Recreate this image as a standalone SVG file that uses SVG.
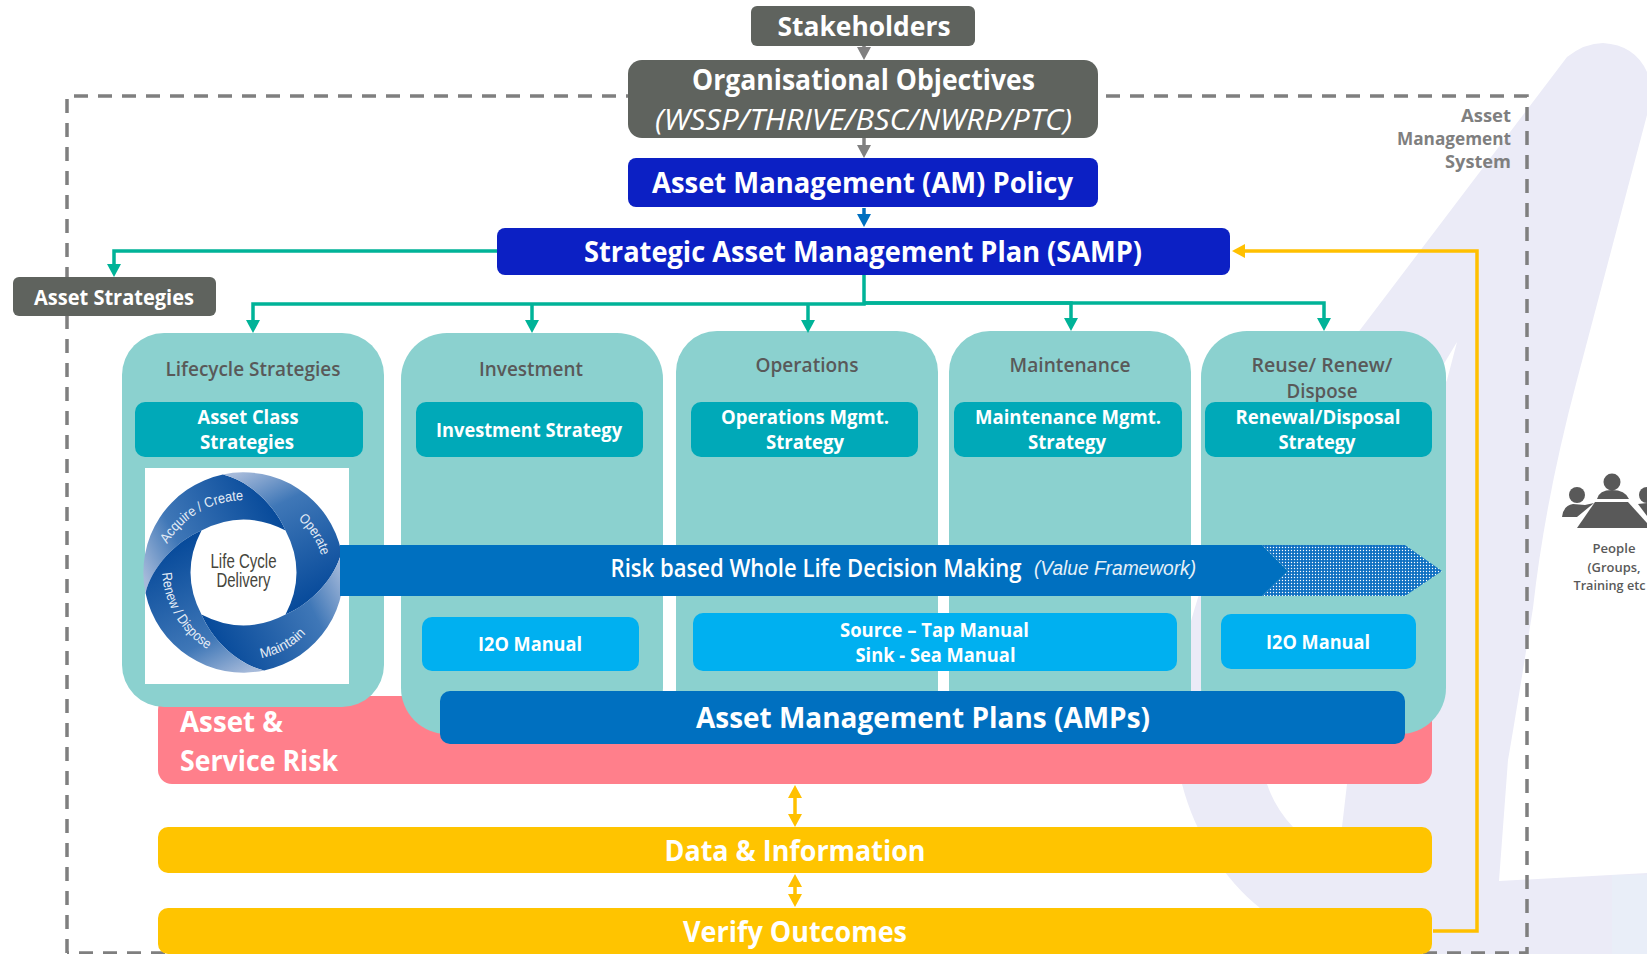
<svg xmlns="http://www.w3.org/2000/svg" xmlns:xlink="http://www.w3.org/1999/xlink" width="1647" height="954" viewBox="0 0 1647 954">
<style>
text{font-family:"Open Sans","Liberation Sans",sans-serif;font-weight:700;fill:#fff;text-anchor:middle}
.col{fill:#8bd1cf}
.strat{fill:#00a9b8}
.man{fill:#00b0f0}
.grey{fill:#5f635e}
.navy{fill:#0c20c4}
.head{fill:#595959;font-size:19px;font-weight:600}
.s19{font-size:19px}
.ln{fill:none;stroke-width:3.5}
.teal{stroke:#00b398;marker-end:url(#ah-teal)}
.ring{fill:#e4ecf6;font-family:"Liberation Sans",sans-serif;font-weight:400;font-size:14px;text-anchor:start}
.ppl{fill:#595959;font-size:12.5px;font-weight:600}
.ams{fill:#7f7f7f;font-size:18px;font-weight:700;text-anchor:end}
</style>
<defs>
<marker id="ah-teal" markerUnits="userSpaceOnUse" markerWidth="14" markerHeight="14" refX="5" refY="7" orient="auto"><path d="M0,0L13,7L0,14Z" fill="#00b398"/></marker>
<marker id="ah-grey" markerUnits="userSpaceOnUse" markerWidth="14" markerHeight="14" refX="5" refY="7" orient="auto"><path d="M0,0L13,7L0,14Z" fill="#808080"/></marker>
<marker id="ah-blue" markerUnits="userSpaceOnUse" markerWidth="14" markerHeight="14" refX="5" refY="7" orient="auto"><path d="M0,0L13,7L0,14Z" fill="#0070c0"/></marker>
<marker id="ah-yel" markerUnits="userSpaceOnUse" markerWidth="14" markerHeight="14" refX="5" refY="7" orient="auto-start-reverse"><path d="M0,0L13,7L0,14Z" fill="#ffc000"/></marker>
<pattern id="dots" patternUnits="userSpaceOnUse" width="3" height="3"><rect width="3" height="3" fill="#0f70c2"/><circle cx="1.5" cy="1.5" r=".7" fill="#fff"/></pattern>
<linearGradient id="sw" gradientUnits="userSpaceOnUse" x1="150" y1="590" x2="280" y2="525"><stop offset="0" stop-color="#a6bada"/><stop offset=".32" stop-color="#3f77b7"/><stop offset="1" stop-color="#084b9b"/></linearGradient>
<path id="band" fill="url(#sw)" d="M145.500,593A100,100 0 0 1 222.900,474.500C248.500,480.500 274.500,504.500 285.500,530.500Q243.500,508.500 201.500,530.500C175.500,541.500 151.500,567.500 145.500,593Z"/>
<path id="t1" d="M167,544Q195,500 248,500"/>
<path id="t2" d="M298,519Q316,535 322,558"/>
<path id="t3" d="M261,658Q291,652 309,630"/>
<path id="t4" d="M162,573Q167,628 217,655"/>
</defs>
<rect width="1647" height="954" fill="#fff"/>
<g id="background">
<path fill="#ebebf7" d="M1567,57Q1585,43 1603,43Q1635,45 1647,72L1647,115L1577,380Q1545,500 1533,608Q1515,720 1508,760L1499,881L1647,873L1647,954L1345,954C1320,945 1290,930 1260,908C1225,880 1195,835 1182,784C1170,740 1170,640 1230,520L1360,330Z"/>
<rect x="1612" y="875" width="35" height="79" fill="#e9eef8"/>
<path fill="#fff" d="M1457,342L1445,362C1400,440 1300,620 1267,784Q1275,808 1293,827L1340,862L1342,827L1347,784C1360,640 1400,470 1447,380Z"/>
</g>
<g id="am-system">
<path d="M67,953V96H1527V953H67" fill="none" stroke="#7f7f7f" stroke-width="3.5" stroke-dasharray="14 10"/>
<text class="ams" x="1511" y="122" textLength="50" lengthAdjust="spacingAndGlyphs">Asset</text>
<text class="ams" x="1511" y="145" textLength="114" lengthAdjust="spacingAndGlyphs">Management</text>
<text class="ams" x="1511" y="168" textLength="66" lengthAdjust="spacingAndGlyphs">System</text>
</g>
<g id="asset-service-risk">
<rect x="158" y="696" width="1274" height="88" rx="14" fill="#ff7f8b"/>
<text x="180" y="732" font-size="29" style="text-anchor:start" textLength="103" lengthAdjust="spacingAndGlyphs">Asset &amp;</text>
<text x="180" y="771" font-size="29" style="text-anchor:start" textLength="158" lengthAdjust="spacingAndGlyphs">Service Risk</text>
</g>
<g id="data-information"><rect x="158" y="827" width="1274" height="46" rx="10" fill="#ffc400"/>
<text x="795" y="861" font-size="28" textLength="261" lengthAdjust="spacingAndGlyphs">Data &amp; Information</text></g>
<g id="verify-outcomes"><rect x="158" y="908" width="1274" height="46" rx="10" fill="#ffc400"/>
<text x="795" y="942" font-size="28" textLength="224" lengthAdjust="spacingAndGlyphs">Verify Outcomes</text></g>
<g id="investment">
<rect class="col" x="401" y="333" width="262" height="401" rx="46"/>
<text class="head" x="531" y="376" textLength="104" lengthAdjust="spacingAndGlyphs">Investment</text>
<rect class="strat" x="416" y="402" width="227" height="55" rx="10"/>
<text class="s19" x="529" y="437" textLength="186" lengthAdjust="spacingAndGlyphs">Investment Strategy</text>
<rect class="man" x="422" y="617" width="217" height="54" rx="10"/>
<text class="s19" x="530" y="651" textLength="104" lengthAdjust="spacingAndGlyphs">I2O Manual</text>
</g>
<g id="operations">
<path class="col" d="M676,372A41,41 0 0 1 717,331H897A41,41 0 0 1 938,372V700H676Z"/>
<text class="head" x="807" y="372" textLength="103" lengthAdjust="spacingAndGlyphs">Operations</text>
<rect class="strat" x="691" y="402" width="227" height="55" rx="10"/>
<text class="s19" x="805" y="424" textLength="168" lengthAdjust="spacingAndGlyphs">Operations Mgmt.</text>
<text class="s19" x="805" y="449" textLength="78" lengthAdjust="spacingAndGlyphs">Strategy</text>
</g>
<g id="maintenance">
<path class="col" d="M949,372A41,41 0 0 1 990,331H1150A41,41 0 0 1 1191,372V700H949Z"/>
<text class="head" x="1070" y="372" textLength="121" lengthAdjust="spacingAndGlyphs">Maintenance</text>
<rect class="strat" x="954" y="402" width="228" height="55" rx="10"/>
<text class="s19" x="1068" y="424" textLength="186" lengthAdjust="spacingAndGlyphs">Maintenance Mgmt.</text>
<text class="s19" x="1067" y="449" textLength="78" lengthAdjust="spacingAndGlyphs">Strategy</text>
</g>
<g id="source-sink-manuals">
<rect class="man" x="693" y="613" width="484" height="58" rx="10"/>
<text class="s19" x="934.500" y="637" textLength="189" lengthAdjust="spacingAndGlyphs">Source – Tap Manual</text>
<text class="s19" x="935.500" y="662" textLength="160" lengthAdjust="spacingAndGlyphs">Sink - Sea Manual</text>
</g>
<g id="reuse-renew-dispose">
<rect class="col" x="1201" y="331" width="245" height="403" rx="46"/>
<text class="head" x="1322" y="372" textLength="141" lengthAdjust="spacingAndGlyphs">Reuse/ Renew/</text>
<text class="head" x="1322" y="398" textLength="71" lengthAdjust="spacingAndGlyphs">Dispose</text>
<rect class="strat" x="1205" y="402" width="227" height="55" rx="10"/>
<text class="s19" x="1318" y="424" textLength="165" lengthAdjust="spacingAndGlyphs">Renewal/Disposal</text>
<text class="s19" x="1317" y="449" textLength="77" lengthAdjust="spacingAndGlyphs">Strategy</text>
<rect class="man" x="1221" y="614" width="195" height="55" rx="10"/>
<text class="s19" x="1318" y="649" textLength="104" lengthAdjust="spacingAndGlyphs">I2O Manual</text>
</g>
<g id="lifecycle-strategies">
<rect class="col" x="122" y="333" width="262" height="374" rx="42"/>
<text class="head" x="253" y="376" textLength="175" lengthAdjust="spacingAndGlyphs">Lifecycle Strategies</text>
<rect class="strat" x="135" y="402" width="228" height="55" rx="10"/>
<text class="s19" x="248" y="424" textLength="101" lengthAdjust="spacingAndGlyphs">Asset Class</text>
<text class="s19" x="247" y="449" textLength="94" lengthAdjust="spacingAndGlyphs">Strategies</text>
</g>
<g id="life-cycle-delivery">
<rect x="145" y="468" width="204" height="216" fill="#fff"/>
<use xlink:href="#band" href="#band"/>
<use xlink:href="#band" href="#band" transform="rotate(90 243.500 572.500)"/>
<use xlink:href="#band" href="#band" transform="rotate(180 243.500 572.500)"/>
<use xlink:href="#band" href="#band" transform="rotate(270 243.500 572.500)"/>
<text class="ring"><textPath xlink:href="#t1" href="#t1" textLength="92" lengthAdjust="spacingAndGlyphs">Acquire / Create</textPath></text>
<text class="ring"><textPath xlink:href="#t2" href="#t2" textLength="44" lengthAdjust="spacingAndGlyphs">Operate</textPath></text>
<text class="ring"><textPath xlink:href="#t3" href="#t3" textLength="52" lengthAdjust="spacingAndGlyphs">Maintain</textPath></text>
<text class="ring"><textPath xlink:href="#t4" href="#t4" textLength="92" lengthAdjust="spacingAndGlyphs">Renew / Dispose</textPath></text>
<text x="243.500" y="568" font-size="20" textLength="66" lengthAdjust="spacingAndGlyphs" style="fill:#45453c;font-family:'Liberation Sans',sans-serif;font-weight:400">Life Cycle</text>
<text x="243.500" y="587" font-size="20" textLength="54" lengthAdjust="spacingAndGlyphs" style="fill:#45453c;font-family:'Liberation Sans',sans-serif;font-weight:400">Delivery</text>
</g>
<g id="risk-arrow">
<path d="M340,545H1262L1288,571L1262,596H340Z" fill="#0070c0"/>
<path d="M1262,545H1405L1442,571L1405,596H1262L1288,571Z" fill="url(#dots)"/>
<text transform="translate(816 577) scale(.85 1)" x="0" y="0" font-size="26" style="font-weight:600">Risk based Whole Life Decision Making</text>
<text x="1115" y="575" font-size="20" textLength="162" lengthAdjust="spacingAndGlyphs" style="font-family:'Liberation Sans',sans-serif;font-weight:400;font-style:italic;fill:#e6f0f8">(Value Framework)</text>
</g>
<g id="amps">
<rect x="440" y="691" width="965" height="53" rx="10" fill="#0070c0"/>
<text x="923" y="728" font-size="29" textLength="454" lengthAdjust="spacingAndGlyphs">Asset Management Plans (AMPs)</text>
</g>
<g id="stakeholders"><rect class="grey" x="751" y="6" width="224" height="40" rx="6"/>
<text x="864" y="36" font-size="26" textLength="173" lengthAdjust="spacingAndGlyphs">Stakeholders</text></g>
<g id="organisational-objectives"><rect class="grey" x="628" y="60" width="470" height="78" rx="14"/>
<text x="863.500" y="90" font-size="28" textLength="343" lengthAdjust="spacingAndGlyphs">Organisational Objectives</text>
<text x="863.500" y="130" font-size="30" textLength="417" lengthAdjust="spacingAndGlyphs" style="font-weight:400;font-style:italic">(WSSP/THRIVE/BSC/NWRP/PTC)</text></g>
<g id="am-policy"><rect class="navy" x="628" y="158" width="470" height="49" rx="8"/>
<text x="862.500" y="193" font-size="28" textLength="421" lengthAdjust="spacingAndGlyphs">Asset Management (AM) Policy</text></g>
<g id="samp"><rect class="navy" x="497" y="228" width="733" height="47" rx="8"/>
<text x="863" y="262" font-size="28" textLength="558" lengthAdjust="spacingAndGlyphs">Strategic Asset Management Plan (SAMP)</text></g>
<g id="asset-strategies"><rect class="grey" x="13" y="277" width="203" height="39" rx="6"/>
<text x="114" y="305" font-size="21" textLength="160" lengthAdjust="spacingAndGlyphs">Asset Strategies</text></g>
<g id="people">
<circle cx="1612" cy="482" r="8.500" fill="#595959"/><circle cx="1577" cy="495" r="8" fill="#595959"/><circle cx="1647" cy="495" r="8" fill="#595959"/>
<path d="M1597,499Q1599,490 1612,490Q1625,490 1629,499Z" fill="#595959"/>
<path d="M1562,517Q1563,506 1573,504L1585,505L1594,503L1577,517Z" fill="#595959"/>
<path d="M1638,504L1647,503V516Z" fill="#595959"/>
<path d="M1595,502H1628L1647,523V528H1577Z" fill="#595959"/>
<text class="ppl" x="1614" y="553" textLength="43" lengthAdjust="spacingAndGlyphs">People</text>
<text class="ppl" x="1614" y="572" textLength="53" lengthAdjust="spacingAndGlyphs">(Groups,</text>
<text class="ppl" x="1609.500" y="590" textLength="72" lengthAdjust="spacingAndGlyphs">Training etc</text>
</g>
<g id="connectors">
<path d="M864,46V52" class="ln" stroke="#808080" marker-end="url(#ah-grey)"/>
<path d="M864,138V150" class="ln" stroke="#808080" marker-end="url(#ah-grey)"/>
<path d="M864,208V219" class="ln" stroke="#0070c0" marker-end="url(#ah-blue)"/>
<path d="M497,251H114V269" class="ln teal"/>
<path d="M864,275V304H253V325" class="ln teal"/>
<path d="M532,304V325" class="ln teal"/>
<path d="M808,304V325" class="ln teal"/>
<path d="M864,303H1071V323" class="ln teal"/>
<path d="M864,303H1324V323" class="ln teal"/>
<path d="M1433,931H1477V251H1240" class="ln" stroke="#ffc000" marker-end="url(#ah-yel)"/>
<path d="M795,793V819" class="ln" stroke="#ffc000" marker-start="url(#ah-yel)" marker-end="url(#ah-yel)"/>
<path d="M795,882V899" class="ln" stroke="#ffc000" marker-start="url(#ah-yel)" marker-end="url(#ah-yel)"/>
</g>
</svg>
